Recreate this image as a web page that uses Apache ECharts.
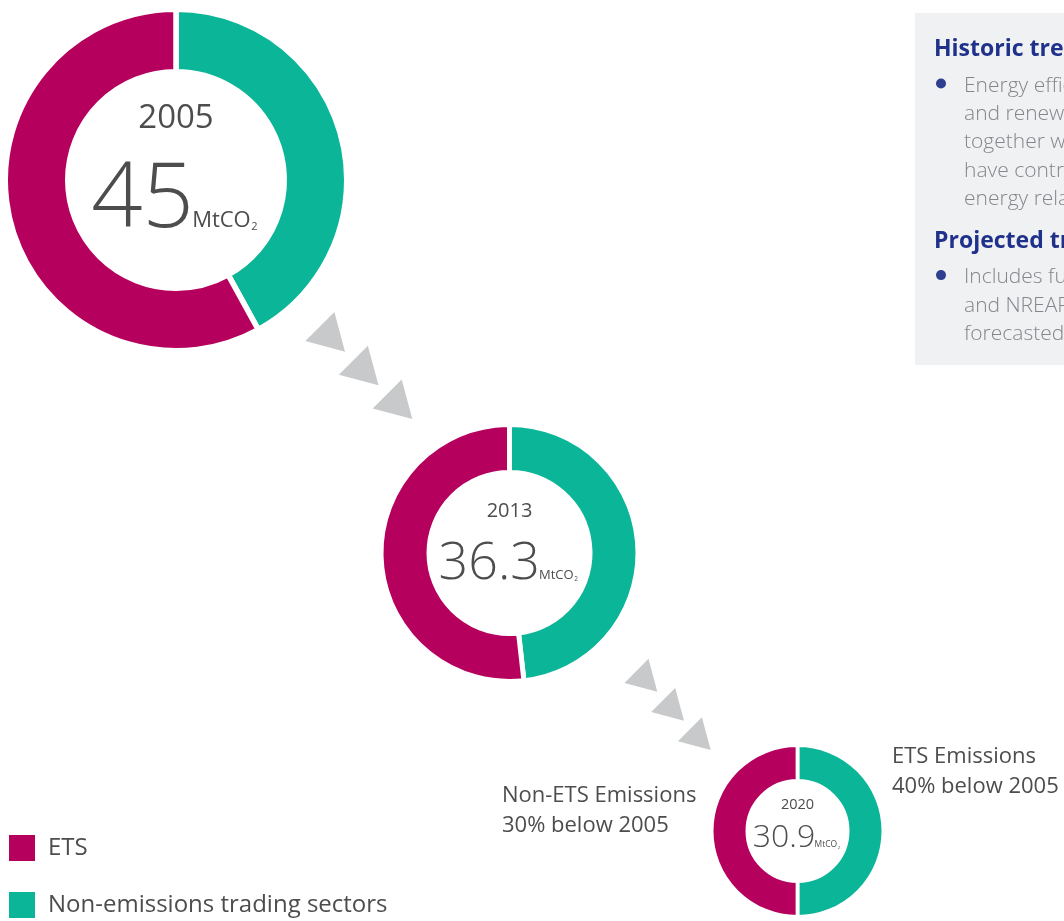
<!DOCTYPE html>
<html>
<head>
<meta charset="utf-8">
<script src="https://cdn.jsdelivr.net/npm/echarts@6/dist/echarts.min.js"></script>
<style>
  html, body { margin: 0; padding: 0; background: #ffffff; }
  #chart { width: 1064px; height: 921px; }
</style>
</head>
<body>
<div id="chart"></div>
<script>
// Energy related CO2 emissions, split between ETS and non-ETS sectors
const years = ['2005', '2013', '2020'];
const totals = [45, 36.3, 30.9];
const etsValues = [26.1, 18.8, 15.45];
const nonEtsValues = [18.9, 17.5, 15.45];
const seriesNames = ['ETS', 'Non-emissions trading sectors'];
const unitLabel = 'MtCO';
const unitSub = '2';
const targetNotes = [
  ['Non-ETS Emissions', '30% below 2005'],
  ['ETS Emissions', '40% below 2005']
];
const panelHeadings = ['Historic trends', 'Projected trends'];
const panelBullets = [
  ['Energy efficiency measures', 'and renewable energy', 'together with the recession', 'have contributed to lower', 'energy related emissions'],
  ['Includes full NEEAP', 'and NREAP targets and', 'forecasted growth']
];

// ---- styling / layout ----
const ETS_COLOR = '#b5005d';
const NON_ETS_COLOR = '#0bb597';
const ARROW_COLOR = '#c8c9cb';
const TEXT_COLOR = '#4d4d4d';
const FONT = "'Open Sans', 'Noto Sans', sans-serif";

const donutLayout = [
  { cx: 176,   cy: 180, r0: 111, r1: 168, gap: 11,  yearSize: 33,   numSize: 90, unitSize: 22,  yearMid: 116, base: 227 },
  { cx: 509.5, cy: 553, r0: 83,  r1: 126, gap: 10,  yearSize: 20,   numSize: 52, unitSize: 13,  yearMid: 510, base: 579 },
  { cx: 797.5, cy: 831, r0: 52,  r1: 84,  gap: 7.5, yearSize: 14.5, numSize: 32, unitSize: 8.5, yearMid: 804, base: 847.5 }
];

// vertical-middle position of a text line whose baseline sits at b
const MID_RATIO = 0.285;
const midFromBase = (b, size) => b - MID_RATIO * size;

const measureCtx = document.createElement('canvas').getContext('2d');
function textWidth(str, size, weight) {
  measureCtx.font = `${weight} ${size}px ${FONT}`;
  return measureCtx.measureText(str).width;
}

function textEl(str, x, y, size, color, weight, align) {
  return {
    type: 'text', x: x, y: y, silent: true,
    style: {
      text: str, fill: color, fontSize: size, fontFamily: FONT,
      fontWeight: weight, align: align || 'left', verticalAlign: 'middle'
    }
  };
}

const graphics = [];

// centre labels of each ring
donutLayout.forEach((d, i) => {
  const numStr = String(totals[i]);
  const subSize = d.unitSize * 0.5;
  const wNum = textWidth(numStr, d.numSize, 300);
  const wUnit = textWidth(unitLabel, d.unitSize, 400);
  const wSub = textWidth(unitSub, subSize, 400);
  const total = wNum + wUnit + wSub;
  const x0 = d.cx - 1 - total / 2;
  const digitMid = d.yearMid + 0.07 * d.yearSize;
  graphics.push(textEl(years[i], d.cx, digitMid, d.yearSize, TEXT_COLOR, 400, 'center'));
  graphics.push(textEl(numStr, x0, midFromBase(d.base, d.numSize), d.numSize, TEXT_COLOR, 300));
  graphics.push(textEl(unitLabel, x0 + wNum - 0.02 * d.numSize, midFromBase(d.base, d.unitSize), d.unitSize, TEXT_COLOR, 400));
  graphics.push(textEl(unitSub, x0 + wNum - 0.02 * d.numSize + wUnit + 0.5, midFromBase(d.base + d.unitSize * 0.14, subSize), subSize, TEXT_COLOR, 400));
});

// triangles leading from one ring to the next
function triangle(tipX, tipY, side) {
  const h = side * Math.sqrt(3) / 2;
  const dir = Math.PI / 4;                 // pointing down-right
  const bx = tipX - Math.cos(dir) * h, by = tipY - Math.sin(dir) * h;
  const px = -Math.sin(dir) * side / 2, py = Math.cos(dir) * side / 2;
  return {
    type: 'polygon', silent: true,
    shape: { points: [[tipX, tipY], [bx + px, by + py], [bx - px, by - py]] },
    style: { fill: ARROW_COLOR }
  };
}
[[345, 351.7], [378.5, 385.3], [412.3, 419]].forEach(p => graphics.push(triangle(p[0], p[1], 41)));
[[657.3, 691.7], [684, 720.8], [710.7, 750]].forEach(p => graphics.push(triangle(p[0], p[1], 34)));

// target notes beside the 2020 ring
const NOTE_SIZE = 22;
targetNotes[0].forEach((t, k) => graphics.push(textEl(t, 502, midFromBase(801.7 + 30 * k, NOTE_SIZE), NOTE_SIZE, TEXT_COLOR, 400)));
targetNotes[1].forEach((t, k) => graphics.push(textEl(t, 892, midFromBase(762.7 + 30.6 * k, NOTE_SIZE), NOTE_SIZE, TEXT_COLOR, 400)));

// side panel
graphics.push({
  type: 'rect', silent: true,
  shape: { x: 915, y: 13, width: 200, height: 352 },
  style: { fill: '#f0f1f3' }
});
const HEAD_SIZE = 23, BODY_SIZE = 21, LINE_H = 28.3;
const headBase = [56, 248.3];
const bodyBase = [91.7, 283.3];
panelHeadings.forEach((h, s) => {
  graphics.push(textEl(h, 934, midFromBase(headBase[s], HEAD_SIZE), HEAD_SIZE, '#1f318a', 700));
  graphics.push({
    type: 'circle', silent: true,
    shape: { cx: 941, cy: bodyBase[s] - 8.2, r: 5 },
    style: { fill: '#2e3f8f' }
  });
  panelBullets[s].forEach((line, k) => {
    graphics.push(textEl(line, 964, midFromBase(bodyBase[s] + LINE_H * k, BODY_SIZE), BODY_SIZE, '#85868a', 300));
  });
});

const series = donutLayout.map((d, i) => ({
  type: 'pie',
  name: years[i],
  center: [d.cx, d.cy],
  radius: [d.r0 - d.gap / 4, d.r1 + d.gap / 4],
  startAngle: 90,
  clockwise: true,
  silent: true,
  label: { show: false },
  labelLine: { show: false },
  emphasis: { disabled: true },
  itemStyle: { borderColor: '#ffffff', borderWidth: d.gap / 2 },
  data: [
    { name: seriesNames[1], value: nonEtsValues[i], itemStyle: { color: NON_ETS_COLOR } },
    { name: seriesNames[0], value: etsValues[i], itemStyle: { color: ETS_COLOR } }
  ]
}));

// one legend block per sector, stacked in the lower-left corner
const legendTops = [835, 892];
const legends = seriesNames.map((name, k) => ({
  data: [name],
  orient: 'vertical',
  left: 9,
  top: legendTops[k],
  padding: 0,
  itemWidth: 26,
  itemHeight: 26,
  icon: 'rect',
  selectedMode: false,
  itemStyle: { borderWidth: 0 },
  textStyle: { fontSize: 24, color: TEXT_COLOR, fontFamily: FONT, padding: [0, 0, 0, 8] }
}));

const chart = echarts.init(document.getElementById('chart'), null, { renderer: 'canvas' });
chart.setOption({
  animation: false,
  backgroundColor: '#ffffff',
  legend: legends,
  series: series,
  graphic: graphics
});
</script>
</body>
</html>
